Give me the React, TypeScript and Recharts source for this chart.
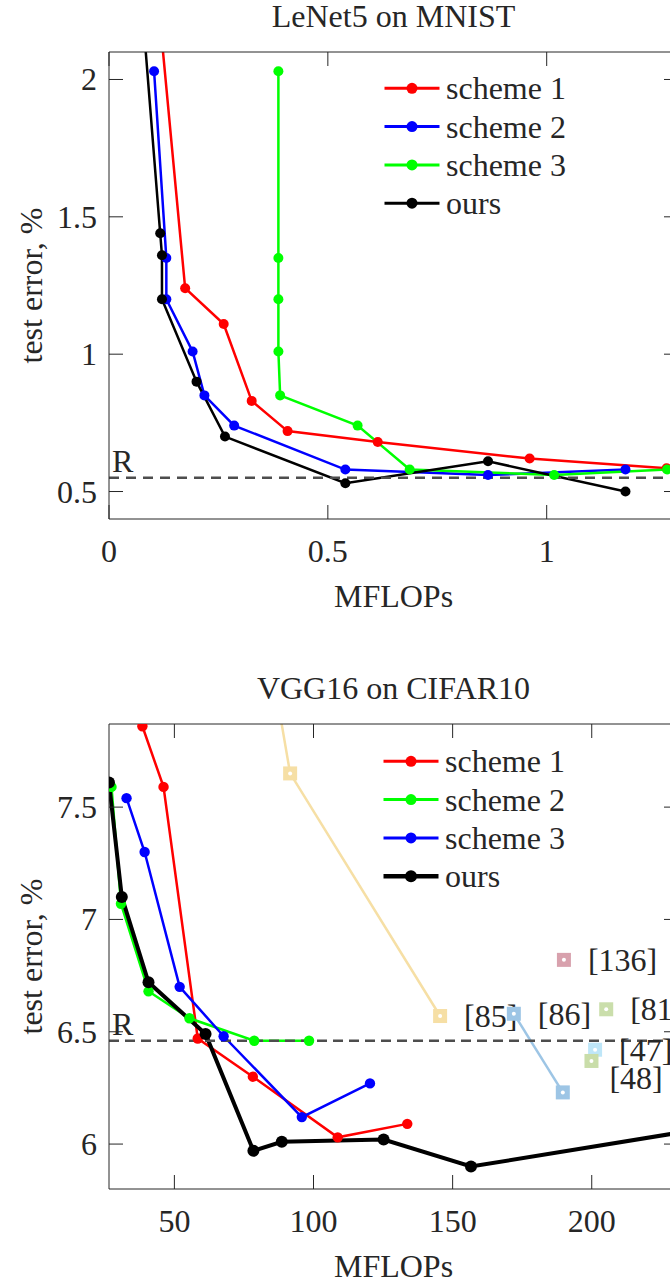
import React from 'react';
import { LineChart, ComposedChart, Line, Scatter, XAxis, YAxis, ReferenceLine, Legend, Label } from 'recharts';

const FONT = '"Liberation Serif", "Times New Roman", serif';
const INK = '#262626';

// LeNet5 on MNIST: [MFLOPs, test error %]
const lenetScheme1 = [[0.094, 2.6], [0.174, 1.24], [0.262, 1.11], [0.326, 0.83], [0.408, 0.72], [0.614, 0.68], [0.961, 0.62], [1.274, 0.585]];
const lenetScheme2 = [[0.103, 2.03], [0.131, 1.35], [0.131, 1.2], [0.191, 1.01], [0.218, 0.85], [0.286, 0.74], [0.54, 0.58], [0.866, 0.56], [1.18, 0.58]];
const lenetScheme3 = [[0.387, 2.03], [0.387, 1.35], [0.387, 1.2], [0.387, 1.01], [0.391, 0.85], [0.568, 0.74], [0.687, 0.58], [1.017, 0.56], [1.275, 0.58]];
const lenetOurs = [[0.059, 2.6], [0.117, 1.44], [0.121, 1.36], [0.121, 1.2], [0.2, 0.9], [0.265, 0.7], [0.54, 0.53], [0.866, 0.61], [1.18, 0.5]];
const lenetXTicks = [0, 0.5, 1];
const lenetYTicks = [0.5, 1, 1.5, 2];
const lenetR = 0.55;

// VGG16 on CIFAR10
const vggScheme1 = [[38.5, 7.86], [46.1, 7.59], [58.4, 6.47], [78.2, 6.3], [108.7, 6.03], [133.7, 6.09]];
const vggScheme2 = [[27.4, 7.59], [30.8, 7.07], [40.7, 6.68], [55.4, 6.56], [78.7, 6.46], [98.4, 6.46]];
const vggScheme3 = [[32.8, 7.54], [39.3, 7.3], [51.9, 6.7], [67.7, 6.48], [95.8, 6.12], [120.3, 6.27]];
const vggOurs = [[26.5, 7.61], [31.1, 7.1], [40.7, 6.72], [61.2, 6.49], [78.4, 5.97], [88.6, 6.01], [125.2, 6.02], [156.6, 5.9], [231, 6.05]];
const vggRef85 = [{ x: 84, y: 8.2 }, { x: 91.6, y: 7.65 }, { x: 145.5, y: 6.57, tag: '[85]' }];
const vggRef86 = [{ x: 172, y: 6.58, tag: '[86]' }, { x: 189.6, y: 6.23 }];
const vggSingles = [
  { x: 190, y: 6.82, tag: '[136]' },
  { x: 205.2, y: 6.6, tag: '[81]' },
  { x: 201.2, y: 6.42, tag: '[47]' },
  { x: 199.9, y: 6.37, tag: '[48]' },
];
const vggXTicks = [50, 100, 150, 200];
const vggYTicks = [6, 6.5, 7, 7.5];
const vggR = 6.46;

const citeColors: Record<string, string> = {
  '[85]': '#F6DFA5',
  '[86]': '#9DC5E5',
  '[136]': '#D8A1AD',
  '[81]': '#CADEAB',
  '[47]': '#BEE6F8',
  '[48]': '#C9DDA9',
};
// [48] label sits below its marker
const tagShift: Record<string, [number, number]> = { '[48]': [-6, 17] };

const pts = (pairs: number[][]) => pairs.map(([x, y]) => ({ x, y }));

const txt = { fontFamily: FONT, fontSize: 32, fill: INK };

const BottomTick = (p: any) => (
  <g>
    <line x1={p.x} x2={p.x} y1={p.y} y2={p.y - 14} stroke={INK} />
    <text x={p.x} y={p.y + 43} textAnchor="middle" {...txt}>{p.payload.value}</text>
  </g>
);
const TopTick = (p: any) => <line x1={p.x} x2={p.x} y1={p.y} y2={p.y + 14} stroke={INK} />;
const LeftTick = (p: any) => (
  <g>
    <line x1={p.x} x2={p.x + 14} y1={p.y} y2={p.y} stroke={INK} />
    <text x={p.x - 12} y={p.y + 11} textAnchor="end" {...txt}>{p.payload.value}</text>
  </g>
);
const RightTick = (p: any) => <line x1={p.x} x2={p.x - 14} y1={p.y} y2={p.y} stroke={INK} />;

const titleLabel = (title: string) => ({ viewBox }: any) => (
  <text x={viewBox.x + viewBox.width / 2} y={viewBox.y + viewBox.height - 25} textAnchor="middle" {...txt}>{title}</text>
);
const xLabel = ({ viewBox }: any) => (
  <text x={viewBox.x + viewBox.width / 2} y={viewBox.y + 88} textAnchor="middle" {...txt}>MFLOPs</text>
);
const yLabel = ({ viewBox }: any) => {
  const x = viewBox.x + viewBox.width - 67;
  const y = viewBox.y + viewBox.height / 2;
  return (
    <text x={x} y={y} transform={`rotate(-90 ${x} ${y})`} textAnchor="middle" {...txt}>test error, %</text>
  );
};
const rLabel = ({ viewBox }: any) => (
  <text x={viewBox.x + 3} y={viewBox.y - 6} {...txt}>R</text>
);

const CiteMark = (props: any) => {
  const { cx, cy, payload, color } = props;
  if (cx == null || cy == null) return <g />;
  const tag = payload?.tag;
  const c = color || citeColors[tag];
  const [dx, dy] = (tag && tagShift[tag]) || [0, 0];
  return (
    <g>
      <rect x={cx - 7} y={cy - 7} width={14} height={14} fill={c} />
      <circle cx={cx} cy={cy} r={2} fill="#fff" />
      {tag && (
        <text x={cx + 24 + dx} y={cy + 11 + dy} {...txt}>{tag}</text>
      )}
    </g>
  );
};

type Entry = { name: string; color: string; width: number; r: number };

const LegendBox = ({ entries }: { entries: Entry[] }) => (
  <svg width={260} height={160}>
    {entries.map((e, i) => {
      const y = 22.3 + i * 38.3;
      return (
        <g key={e.name}>
          <line x1={4.5} x2={59.5} y1={y} y2={y} stroke={e.color} strokeWidth={e.width} />
          <circle cx={32} cy={y} r={e.r} fill={e.color} />
          <text x={66} y={y + 11} {...txt}>{e.name}</text>
        </g>
      );
    })}
  </svg>
);

const lenetLegend: Entry[] = [
  { name: 'scheme 1', color: '#ff0000', width: 3, r: 5.5 },
  { name: 'scheme 2', color: '#0000ff', width: 3, r: 5.5 },
  { name: 'scheme 3', color: '#00ff00', width: 3, r: 5.5 },
  { name: 'ours', color: '#000000', width: 3, r: 5.5 },
];
const vggLegend: Entry[] = [
  { name: 'scheme 1', color: '#ff0000', width: 3, r: 5.5 },
  { name: 'scheme 2', color: '#00ff00', width: 3, r: 5.5 },
  { name: 'scheme 3', color: '#0000ff', width: 3, r: 5.5 },
  { name: 'ours', color: '#000000', width: 4.5, r: 6 },
];

// axes are 1px thick boxes; ticks point inward like the original
const axes = (xDomain: number[], yDomain: number[], xTicks: number[], yTicks: number[], title: string) => [
  <XAxis key="xb" type="number" dataKey="x" domain={xDomain} ticks={xTicks} interval={0} allowDataOverflow
    height={1} tickSize={0} tickMargin={0} tickLine={false} axisLine={{ stroke: INK }} tick={BottomTick}>
    <Label content={xLabel} />
  </XAxis>,
  <XAxis key="xt" xAxisId="top" orientation="top" type="number" dataKey="x" domain={xDomain} ticks={xTicks} interval={0} allowDataOverflow
    height={1} tickSize={0} tickMargin={0} tickLine={false} axisLine={{ stroke: INK }} tick={TopTick}>
    <Label content={titleLabel(title)} />
  </XAxis>,
  <YAxis key="yl" type="number" dataKey="y" domain={yDomain} ticks={yTicks} interval={0} allowDataOverflow
    width={1} tickSize={0} tickMargin={0} tickLine={false} axisLine={{ stroke: INK }} tick={LeftTick}>
    <Label content={yLabel} />
  </YAxis>,
  <YAxis key="yr" yAxisId="right" orientation="right" type="number" dataKey="y" domain={yDomain} ticks={yTicks} interval={0} allowDataOverflow
    width={1} tickSize={0} tickMargin={0} tickLine={false} axisLine={{ stroke: INK }} tick={RightTick} />,
];

function LenetChart() {
  const series = [
    { name: 'scheme 1', data: lenetScheme1, color: '#ff0000' },
    { name: 'scheme 2', data: lenetScheme2, color: '#0000ff' },
    { name: 'scheme 3', data: lenetScheme3, color: '#00ff00' },
    { name: 'ours', data: lenetOurs, color: '#000000' },
  ];
  return (
    <LineChart width={700} height={640} margin={{ top: 51, right: 21, bottom: 120, left: 108 }}>
      {axes([0, 1.3], [0.4, 2.1], lenetXTicks, lenetYTicks, 'LeNet5 on MNIST')}
      {series.map((s) => (
        <Line key={s.name} name={s.name} data={pts(s.data)} dataKey="y" stroke={s.color} strokeWidth={2.5}
          dot={{ r: 5, fill: s.color, stroke: s.color, strokeWidth: 0 }} isAnimationActive={false} />
      ))}
      <ReferenceLine y={lenetR} stroke="#4d4d4d" strokeWidth={2.5} strokeDasharray="10 7" label={rLabel} />
      <Legend layout="vertical" align="center" verticalAlign="middle" content={() => <LegendBox entries={lenetLegend} />}
        wrapperStyle={{ left: 380, top: 66, width: 260, height: 160 }} />
    </LineChart>
  );
}

function VggChart() {
  const series = [
    { name: 'scheme 1', data: vggScheme1, color: '#ff0000', w: 2.5, r: 5.2 },
    { name: 'scheme 2', data: vggScheme2, color: '#00ff00', w: 2.5, r: 5.2 },
    { name: 'scheme 3', data: vggScheme3, color: '#0000ff', w: 2.5, r: 5.2 },
    { name: 'ours', data: vggOurs, color: '#000000', w: 4, r: 6 },
  ];
  return (
    <ComposedChart width={700} height={642} margin={{ top: 83, right: 21, bottom: 92, left: 108 }}>
      {axes([26.5, 231], [5.8, 7.87], vggXTicks, vggYTicks, 'VGG16 on CIFAR10')}
      <Line name="[85]" data={vggRef85} dataKey="y" stroke={citeColors['[85]']} strokeWidth={2.5}
        dot={(p: any) => <CiteMark key={p.index} {...p} color={citeColors['[85]']} />} isAnimationActive={false} />
      <Line name="[86]" data={vggRef86} dataKey="y" stroke={citeColors['[86]']} strokeWidth={2.5}
        dot={(p: any) => <CiteMark key={p.index} {...p} color={citeColors['[86]']} />} isAnimationActive={false} />
      <Scatter name="others" data={vggSingles} dataKey="y" shape={(p: any) => <CiteMark {...p} />} isAnimationActive={false} />
      {series.map((s) => (
        <Line key={s.name} name={s.name} data={pts(s.data)} dataKey="y" stroke={s.color} strokeWidth={s.w}
          dot={{ r: s.r, fill: s.color, stroke: s.color, strokeWidth: 0 }} isAnimationActive={false} />
      ))}
      <ReferenceLine y={vggR} stroke="#4d4d4d" strokeWidth={2.5} strokeDasharray="10 6" label={rLabel} />
      <Legend layout="vertical" align="center" verticalAlign="middle" content={() => <LegendBox entries={vggLegend} />}
        wrapperStyle={{ left: 379, top: 99, width: 260, height: 160 }} />
    </ComposedChart>
  );
}

export default function App() {
  return (
    <div style={{ position: 'absolute', left: 0, top: 0, width: 670, height: 1282, overflow: 'hidden', background: '#fff' }}>
      <div style={{ position: 'absolute', left: 0, top: 0 }}>
        <LenetChart />
      </div>
      <div style={{ position: 'absolute', left: 0, top: 640 }}>
        <VggChart />
      </div>
    </div>
  );
}
